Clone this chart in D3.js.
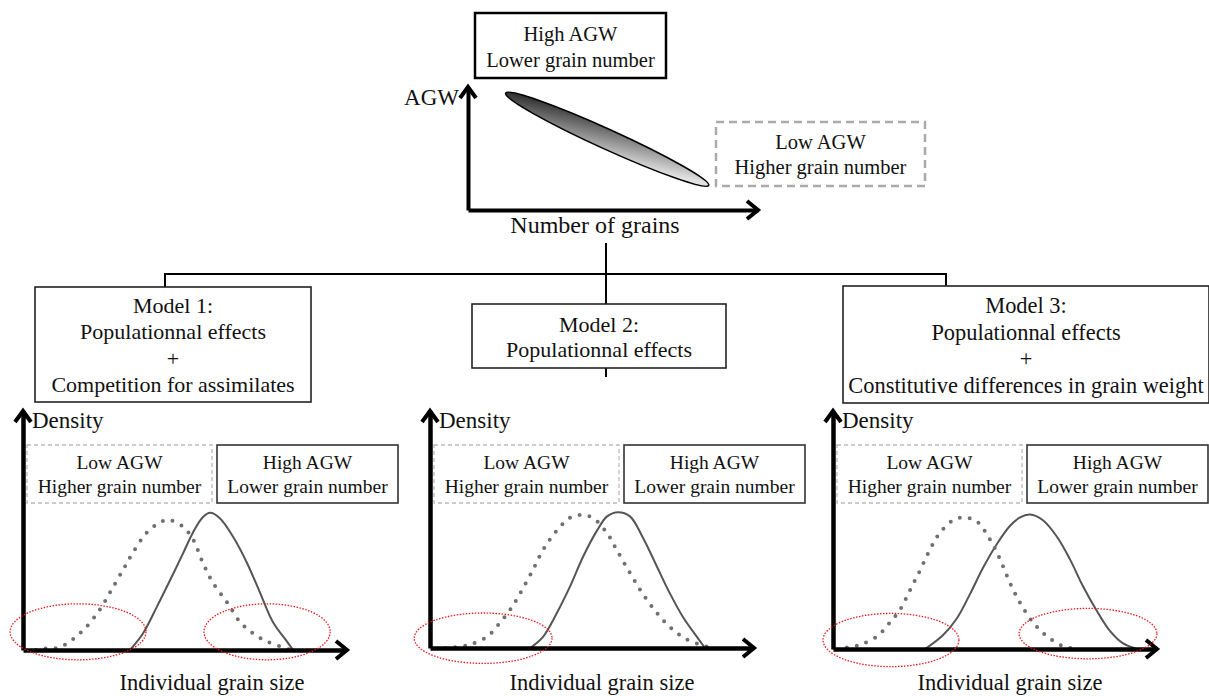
<!DOCTYPE html>
<html>
<head>
<meta charset="utf-8">
<script src="https://cdn.jsdelivr.net/npm/d3@7"></script>
<style>
  body { margin: 0; background: #fff; }
</style>
</head>
<body>
<div id="chart"></div>
<script>
// ---- data ----
const topLabels = { x: "Number of grains", y: "AGW" };
const highLabel = ["High AGW", "Lower grain number"];
const lowLabel = ["Low AGW", "Higher grain number"];
// grain cloud end points, in (number of grains, AGW) units 0..1
const cloudEnds = [[0.13, 0.95], [0.83, 0.20]];

const modelTitles = [
  ["Model 1:", "Populationnal effects", "+", "Competition for assimilates"],
  ["Model 2:", "Populationnal effects"],
  ["Model 3:", "Populationnal effects", "+", "Constitutive differences in grain weight"]
];

// density curves: [grain size 0..100, density 0..1]
const dotted1 = [[4,0],[5.3,0.01],[11.5,0.02],[18.6,0.14],[23.9,0.29],[27,0.41],[31,0.57],[34,0.69],[38.5,0.84],[42.5,0.91],[45,0.93],[49.7,0.88],[52.8,0.79],[55.9,0.62],[59,0.48],[63.4,0.34],[67.4,0.2],[71.4,0.12],[75.8,0.06],[82,0.01],[83,0]];
const solid1 = [[33.2,0],[37.3,0.12],[41.6,0.31],[45.7,0.5],[49.7,0.69],[52.8,0.84],[55.9,0.95],[58.1,0.98],[61.2,0.94],[65.2,0.81],[69.6,0.62],[73.6,0.41],[77.6,0.2],[82,0.06],[83.9,0]];
const dotted2 = [[4.7,0],[11.5,0.02],[17.7,0.08],[21.7,0.18],[24.8,0.27],[28,0.39],[32,0.56],[35.1,0.7],[39.4,0.84],[43.5,0.93],[47.2,0.95],[50.6,0.93],[55,0.82],[58,0.7],[62,0.54],[66,0.39],[70.5,0.25],[74.5,0.15],[79.8,0.06],[86,0.01],[87,0]];
const solid2 = [[31.1,0],[35.1,0.08],[39.4,0.25],[43.5,0.44],[47.5,0.65],[51.9,0.84],[55,0.94],[58.4,0.97],[62.1,0.94],[66.1,0.79],[70.5,0.58],[74.5,0.39],[78.6,0.22],[82.9,0.08],[85.4,0]];
const dotted3 = [[4.3,0.01],[8.4,0.03],[13.7,0.09],[17.7,0.19],[20.8,0.28],[23.9,0.42],[27,0.56],[30.1,0.71],[33.2,0.83],[37.3,0.92],[40.7,0.94],[44.7,0.91],[48.8,0.78],[51.9,0.64],[55,0.47],[58.1,0.33],[62.1,0.19],[66.5,0.09],[71.4,0.02],[75.8,0]];
const solid3 = [[28.6,0],[34.2,0.1],[38.5,0.22],[42.5,0.39],[46.6,0.58],[50.9,0.75],[55,0.88],[58.1,0.94],[61.2,0.96],[65.2,0.92],[69.6,0.8],[73.6,0.64],[77.6,0.45],[82,0.27],[86,0.13],[90.1,0.04],[94.4,0]];

// tails circled in red: [cx, cy, rx, ry] in data units
const tails1 = [[17.1, 0.13, 21.1, 0.2], [75.8, 0.13, 19.6, 0.2]];
const tails2 = [[16.5, 0.07, 21.4, 0.18]];
const tails3 = [[18.0, 0.064, 21.1, 0.19], [79.2, 0.11, 21.4, 0.18]];

const densityLabel = "Density";
const sizeLabel = "Individual grain size";

// ---- layout ----
const W = 1209, H = 696;
const FONT = "'Liberation Serif', 'Times New Roman', Times, serif";
const svg = d3.select("#chart").append("svg")
  .attr("width", W).attr("height", H)
  .style("font-family", FONT);

const defs = svg.append("defs");
const grad = defs.append("linearGradient").attr("id", "cloudGrad")
  .attr("x1", 0).attr("y1", 0).attr("x2", 1).attr("y2", 0.4);
grad.append("stop").attr("offset", 0).attr("stop-color", "#111");
grad.append("stop").attr("offset", 1).attr("stop-color", "#e2e2e2");

function label(g, x, y, t, fs, anchor) {
  return g.append("text")
    .attr("x", x).attr("y", y)
    .attr("text-anchor", anchor || "start")
    .attr("fill", "#111")
    .style("font-family", FONT)
    .style("font-size", fs + "px")
    .text(t);
}
function arrowRight(g, x, y) {
  g.append("path")
    .attr("d", `M${x - 11},${y - 9} L${x},${y} L${x - 11},${y + 9}`)
    .attr("fill", "none").attr("stroke", "#000").attr("stroke-width", 4);
}
function arrowUp(g, x, y) {
  g.append("path")
    .attr("d", `M${x - 8},${y + 11} L${x},${y} L${x + 8},${y + 11}`)
    .attr("fill", "none").attr("stroke", "#000").attr("stroke-width", 4);
}
function textBox(g, x, y, w, h, lines, opts) {
  g.append("rect")
    .attr("x", x).attr("y", y).attr("width", w).attr("height", h)
    .attr("fill", "#fff")
    .attr("stroke", opts.stroke)
    .attr("stroke-width", opts.sw)
    .attr("stroke-dasharray", opts.dash || null);
  lines.forEach((t, i) => label(g, x + w / 2, opts.base + i * opts.step, t, opts.fs, "middle"));
}

// ---- top panel: AGW vs number of grains ----
const topG = svg.append("g");
const gx = d3.scaleLinear().domain([0, 1]).range([468, 758]);
const gy = d3.scaleLinear().domain([0, 1]).range([210, 87]);

topG.append("g").attr("transform", `translate(0,${gy(0)})`)
  .call(d3.axisBottom(gx).tickValues([]).tickSizeOuter(0))
  .select(".domain").attr("stroke-width", 4);
topG.append("g").attr("transform", `translate(${gx(0)},0)`)
  .call(d3.axisLeft(gy).tickValues([]).tickSizeOuter(0))
  .select(".domain").attr("stroke-width", 4);
arrowRight(topG, gx(1), gy(0));
arrowUp(topG, gx(0), gy(1));

label(topG, 459, 105, topLabels.y, 23, "end");
label(topG, 595, 233, topLabels.x, 24, "middle");

{
  const [a, b] = cloudEnds;
  const x1 = gx(a[0]), y1 = gy(a[1]), x2 = gx(b[0]), y2 = gy(b[1]);
  const cx = (x1 + x2) / 2, cy = (y1 + y2) / 2;
  const rx = Math.hypot(x2 - x1, y2 - y1) / 2;
  const ang = Math.atan2(y2 - y1, x2 - x1) * 180 / Math.PI;
  topG.append("ellipse")
    .attr("cx", 0).attr("cy", 0).attr("rx", rx).attr("ry", 10)
    .attr("transform", `translate(${cx},${cy}) rotate(${ang})`)
    .attr("fill", "url(#cloudGrad)")
    .attr("stroke", "#000").attr("stroke-width", 1.6);
}

textBox(topG, 475, 13, 191, 65, highLabel,
  { stroke: "#000", sw: 2.5, base: 41, step: 26, fs: 20.5 });
textBox(topG, 716, 122, 209, 64, lowLabel,
  { stroke: "#aaa", sw: 2.5, dash: "8 5", base: 149, step: 25, fs: 20.5 });

// ---- tree connectors ----
const link = svg.append("g").attr("fill", "none")
  .attr("stroke", "#000").attr("stroke-width", 2);
link.append("path").attr("d", "M606,243 V304");
link.append("path").attr("d", "M165,287 V274 H946 V286");
link.append("path").attr("d", "M606,368 V377");

// ---- model boxes ----
const models = svg.append("g");
textBox(models, 35, 287, 276, 115, modelTitles[0],
  { stroke: "#222", sw: 1.6, base: 313, step: 26.3, fs: 22 });
textBox(models, 472, 304, 254, 64, modelTitles[1],
  { stroke: "#222", sw: 1.6, base: 332, step: 25, fs: 22 });
textBox(models, 843, 286, 366, 117, modelTitles[2],
  { stroke: "#222", sw: 1.6, base: 313, step: 26.7, fs: 22.4 });

// ---- density panels ----
const panels = [
  { x0: 23,  y0: 650, dotted: dotted1, solid: solid1, tails: tails1, lab: 189 },
  { x0: 430, y0: 648, dotted: dotted2, solid: solid2, tails: tails2, lab: 172 },
  { x0: 833, y0: 649, dotted: dotted3, solid: solid3, tails: tails3, lab: 177 }
];

panels.forEach(p => {
  const g = svg.append("g");
  const x = d3.scaleLinear().domain([0, 100]).range([p.x0, p.x0 + 322]);
  const y = d3.scaleLinear().domain([0, 1]).range([p.y0, p.y0 - 140]);
  const line = d3.line().x(d => x(d[0])).y(d => y(d[1])).curve(d3.curveCatmullRom);

  textBox(g, p.x0 + 4, 445, 185, 58, lowLabel,
    { stroke: "#bbb", sw: 1.3, dash: "4 3", base: 469, step: 24, fs: 19.5 });
  textBox(g, p.x0 + 194, 445, 181, 58, highLabel,
    { stroke: "#333", sw: 1.6, base: 469, step: 24, fs: 19.5 });

  g.append("path").datum(p.solid).attr("d", line)
    .attr("fill", "none").attr("stroke", "#555").attr("stroke-width", 2);
  g.append("path").datum(p.dotted).attr("d", line)
    .attr("fill", "none").attr("stroke", "#707070").attr("stroke-width", 4)
    .attr("stroke-linecap", "round").attr("stroke-dasharray", "0 10");

  g.append("g").attr("transform", `translate(0,${p.y0})`)
    .call(d3.axisBottom(x).tickValues([]).tickSizeOuter(0))
    .select(".domain").attr("stroke-width", 4.5);
  g.append("g").attr("transform", `translate(${p.x0},0)`)
    .call(d3.axisLeft(d3.scaleLinear().domain([0, 1]).range([p.y0, 411])).tickValues([]).tickSizeOuter(0))
    .select(".domain").attr("stroke-width", 4.5);
  arrowRight(g, x(100) + 2, p.y0);
  arrowUp(g, p.x0, 411);

  g.selectAll("ellipse.tail").data(p.tails).join("ellipse")
    .attr("class", "tail")
    .attr("cx", d => x(d[0])).attr("cy", d => y(d[1]))
    .attr("rx", d => x(d[2]) - x(0)).attr("ry", d => y(0) - y(d[3]))
    .attr("fill", "none").attr("stroke", "#e21a1a").attr("stroke-width", 1.3)
    .attr("stroke-dasharray", "1.5 1.5");

  label(g, p.x0 + 9, 428, densityLabel, 23);
  label(g, p.x0 + p.lab, 690, sizeLabel, 22.5, "middle");
});
</script>
</body>
</html>
